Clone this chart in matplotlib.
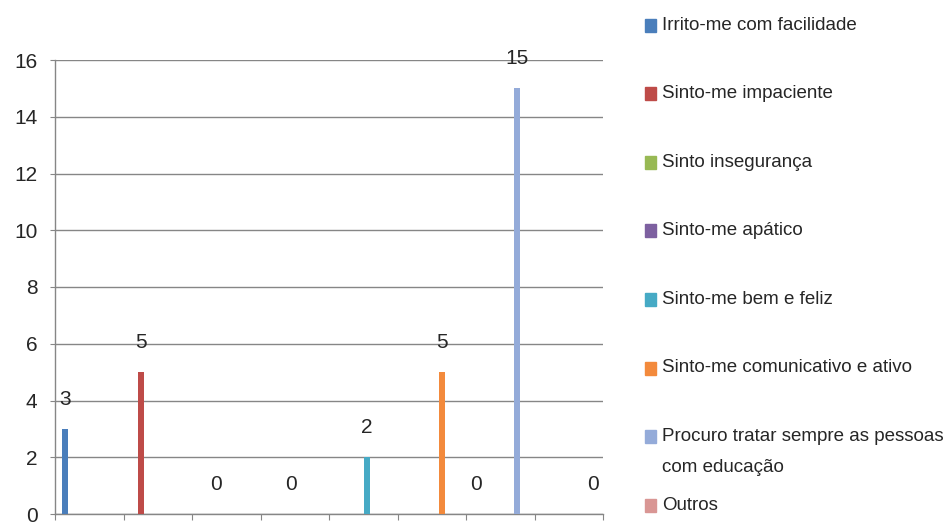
import numpy as np
import matplotlib
matplotlib.use("Agg")
import matplotlib.pyplot as plt
from matplotlib.patches import Rectangle

plt.rcParams['font.family'] = ['Liberation Sans Narrow', 'Liberation Sans', 'DejaVu Sans']

# Series (one per answer option) and their counts
series_names = [
    "Irrito-me com facilidade",
    "Sinto-me impaciente",
    "Sinto insegurança",
    "Sinto-me apático",
    "Sinto-me bem e feliz",
    "Sinto-me comunicativo e ativo",
    "Procuro tratar sempre as pessoas\ncom educação",
    "Outros",
]
series_counts = [3, 5, 0, 0, 2, 5, 15, 0]
series_category = [1, 2, 3, 4, 5, 6, 7, 8]
# one additional zero-valued cell: first series in category 7
extra_series = [0]
extra_category = [7]
extra_value = [0]

colors = ["#4A7EBB", "#BE4B48", "#98B954", "#7D60A0",
          "#46AAC5", "#F38A3C", "#94ABD9", "#D99694"]

y_ticks = [0, 2, 4, 6, 8, 10, 12, 14, 16]
categories = np.arange(1, 9)

fig = plt.figure(figsize=(9.47, 5.22), dpi=100)
ax = fig.add_axes([55 / 947, 1 - 514 / 522, (603 - 55) / 947, (514 - 60) / 522])

n_series = len(series_names)
step = 0.0993
bar_w = 0.088

# assemble the series x category table (NaN = empty cell)
table = np.full((n_series, len(categories)), np.nan)
for s, (c, v) in enumerate(zip(series_category, series_counts)):
    table[s, c - 1] = v
for s, c, v in zip(extra_series, extra_category, extra_value):
    table[s, c - 1] = v

gray = "#868686"
for s in range(n_series):
    offset = (s - (n_series - 1) / 2) * step
    mask = ~np.isnan(table[s])
    xs = categories[mask] + offset
    hs = table[s][mask]
    bars = ax.bar(xs, hs, width=bar_w, color=colors[s], zorder=3)
    for b, h in zip(bars, hs):
        ax.annotate(f"{int(h)}", (b.get_x() + b.get_width() / 2, h),
                    xytext=(0, 21.5), textcoords="offset points",
                    ha="center", va="center", fontsize=15, color="#262626",
                    zorder=4)

ax.set_xlim(0.5, 8.5)
ax.set_ylim(0, 16)
ax.set_yticks(y_ticks)
ax.set_xticks(np.arange(0.5, 9.0, 1.0))
ax.set_xticklabels([])
ax.yaxis.grid(True, color=gray, linewidth=1.0, zorder=0)
ax.set_axisbelow(True)
for side in ("top", "right"):
    ax.spines[side].set_visible(False)
for side in ("left", "bottom"):
    ax.spines[side].set_color(gray)
    ax.spines[side].set_linewidth(1.0)
ax.tick_params(axis="y", length=3.6, color=gray, pad=9, labelsize=15,
               labelcolor="#262626")
ax.tick_params(axis="x", length=4.3, color=gray)
ax.set_facecolor("white")

# legend drawn as a column of swatches and labels on the right
leg_x0 = 645 / 947
leg_w = 11 / 947
leg_h = 13 / 522
text_x = 662 / 947
y_first = 25
y_step = 68.6
for s, name in enumerate(series_names):
    yc = y_first + s * y_step
    yf = 1 - yc / 522
    fig.patches.append(Rectangle((leg_x0, yf - leg_h / 2), leg_w, leg_h,
                                 transform=fig.transFigure, color=colors[s]))
    fig.text(text_x, yf, name.split("\n")[0], ha="left", va="center",
             fontsize=13.5, color="#262626")
    for k, extra_line in enumerate(name.split("\n")[1:], start=1):
        fig.text(text_x, 1 - (yc + 31 * k) / 522, extra_line, ha="left",
                 va="center", fontsize=13.5, color="#262626")

fig.savefig("out.png", dpi=100, facecolor="white")
